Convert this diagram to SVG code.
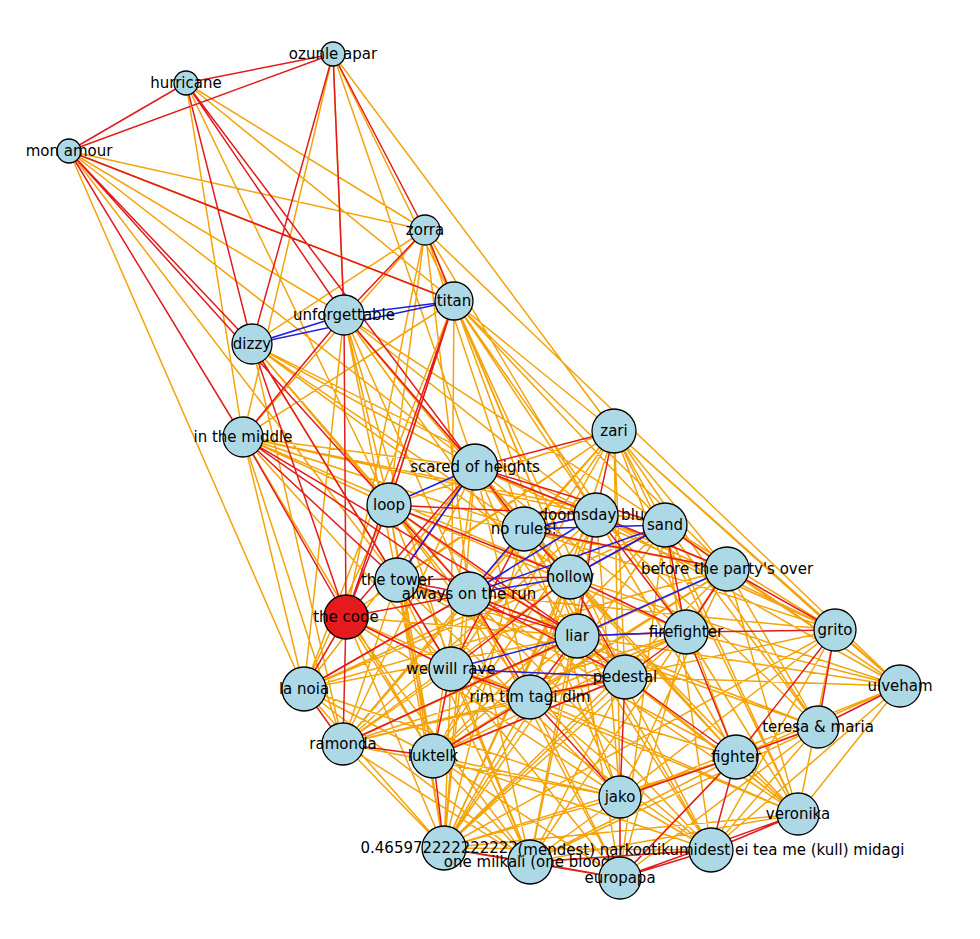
<svg xmlns="http://www.w3.org/2000/svg" width="980" height="939" viewBox="0 0 980 939">
<style>
.o{stroke:#f5a30a;stroke-width:1.5;fill:none}
.r{stroke:#e41a1c;stroke-width:1.5;fill:none}
.b{stroke:#1f1fe0;stroke-width:1.5;fill:none}
.n circle{fill:#add8e6;stroke:#000;stroke-width:1.3}
text{font-family:"DejaVu Sans",sans-serif;font-size:15px;text-anchor:middle;dominant-baseline:central;fill:#000}
</style>
<rect width="980" height="939" fill="#fff"/>
<g id="connectors">
<path class="o" d="M333 54L454 301M333 54L475 467M333 54L243 437M333 54L614 431M333 54L344 315M186 83L425 230M186 83L389 505M186 83L454 301M69 151L344 315M69 151L425 230M69 151L397 580M69 151L304 689M69 151L454 301M69 151L475 467M186 83L243 437M425 230L243 437M425 230L389 505M425 230L596 515M425 230L346 617M425 230L524 529M425 230L469 594M425 230L252 344M425 230L570 577M454 301L614 431M454 301L596 515M454 301L665 525M454 301L727 569M454 301L570 577M454 301L577 636M454 301L451 669M454 301L389 505M454 301L243 437M454 301L304 689M454 301L686 632M454 301L625 677M344 315L389 505M344 315L524 529M344 315L596 515M344 315L469 594M344 315L577 636M344 315L433 756M344 315L304 689M344 315L665 525M344 315L451 669M344 315L570 577M252 344L475 467M252 344L389 505M252 344L524 529M252 344L469 594M252 344L451 669M252 344L343 744M252 344L596 515M252 344L570 577M243 437L475 467M243 437L389 505M243 437L596 515M243 437L524 529M243 437L451 669M243 437L304 689M243 437L433 756M243 437L570 577M243 437L665 525M243 437L343 744M614 431L389 505M614 431L397 580M614 431L469 594M614 431L346 617M614 431L835 630M614 431L900 686M614 431L818 727M614 431L736 757M614 431L451 669M614 431L530 697M614 431L625 677M614 431L343 744M614 431L433 756M614 431L798 814M614 431L620 797M425 230L900 686M475 467L727 569M475 467L686 632M475 467L835 630M475 467L625 677M475 467L530 697M475 467L343 744M475 467L433 756M475 467L620 797M475 467L444 848M475 467L736 757M475 467L304 689M389 505L727 569M389 505L686 632M389 505L625 677M389 505L530 697M389 505L433 756M389 505L444 848M389 505L530 862M389 505L620 797M389 505L304 689M596 515L835 630M596 515L900 686M596 515L818 727M596 515L736 757M596 515L620 797M596 515L444 848M596 515L530 862M596 515L343 744M596 515L433 756M596 515L530 697M665 525L900 686M665 525L835 630M665 525L818 727M665 525L798 814M665 525L711 850M665 525L620 878M665 525L444 848M665 525L433 756M665 525L304 689M524 529L835 630M524 529L736 757M524 529L711 850M524 529L444 848M524 529L620 797M524 529L343 744M524 529L798 814M727 569L900 686M727 569L818 727M727 569L798 814M727 569L530 862M727 569L444 848M727 569L620 797M727 569L433 756M727 569L343 744M727 569L304 689M727 569L530 697M570 577L900 686M570 577L798 814M570 577L711 850M570 577L620 878M570 577L444 848M570 577L343 744M570 577L304 689M397 580L444 848M397 580L530 862M397 580L620 797M397 580L736 757M397 580L818 727M397 580L343 744M397 580L433 756M397 580L625 677M469 594L835 630M469 594L818 727M469 594L711 850M469 594L620 878M469 594L530 862M469 594L444 848M469 594L343 744M469 594L304 689M469 594L798 814M346 617L444 848M346 617L530 862M346 617L620 797M346 617L433 756M346 617L577 636M346 617L530 697M577 636L900 686M577 636L798 814M577 636L711 850M577 636L530 862M577 636L444 848M577 636L343 744M577 636L433 756M577 636L304 689M686 632L900 686M686 632L798 814M686 632L620 878M686 632L444 848M686 632L433 756M686 632L530 697M686 632L343 744M835 630L900 686M835 630L798 814M835 630L711 850M835 630L620 797M835 630L530 697M835 630L444 848M451 669L798 814M451 669L711 850M451 669L620 878M451 669L736 757M451 669L530 862M451 669L444 848M451 669L343 744M625 677L900 686M625 677L798 814M625 677L530 862M625 677L444 848M625 677L433 756M625 677L343 744M304 689L444 848M304 689L530 862M304 689L433 756M304 689L620 797M900 686L798 814M900 686L711 850M900 686L620 797M900 686L736 757M530 697L798 814M530 697L711 850M530 697L620 878M530 697L444 848M530 697L343 744M818 727L711 850M818 727L620 878M818 727L530 862M818 727L620 797M343 744L444 848M343 744L530 862M343 744L620 797M433 756L711 850M433 756L620 878M433 756L530 862M433 756L620 797M736 757L444 848M736 757L530 862M736 757L620 878M736 757L798 814M620 797L711 850M620 797L444 848M620 797L530 862M798 814L444 848M798 814L530 862M444 848L711 850M444 848L620 878M530 862L711 850M614 431L665 525M614 431L727 569"/>
<path class="r" d="M186 83L333 54M69 151L333 54M69 151L186 83M186 83L252 344M186 83L344 315M186 83L475 467M333 54L425 230M333 54L252 344M333 54L344 315M69 151L252 344M69 151L454 301M69 151L243 437M69 151L389 505M425 230L454 301M425 230L344 315M252 344L346 617M243 437L346 617M243 437L469 594M344 315L243 437M454 301L389 505M454 301L346 617M344 315L346 617M344 315L475 467M252 344L397 580M243 437L577 636M243 437L397 580M475 467L596 515M475 467L665 525M475 467L524 529M475 467L397 580M389 505L596 515M389 505L570 577M389 505L469 594M389 505L577 636M524 529L727 569M524 529L570 577M524 529L451 669M596 515L727 569M596 515L577 636M596 515L686 632M570 577L686 632M570 577L625 677M570 577L451 669M397 580L577 636M397 580L451 669M397 580L570 577M469 594L625 677M469 594L577 636M469 594L530 697M346 617L304 689M346 617L343 744M346 617L469 594M346 617L389 505M346 617L451 669M577 636L625 677M577 636L686 632M577 636L530 697M686 632L835 630M686 632L736 757M686 632L625 677M835 630L818 727M835 630L736 757M451 669L433 756M451 669L530 697M625 677L620 797M625 677L736 757M625 677L530 697M530 697L620 797M530 697L433 756M304 689L343 744M343 744L433 756M433 756L444 848M620 797L620 878M620 797L736 757M736 757L711 850M798 814L711 850M798 814L620 878M711 850L620 878M530 862L620 878M444 848L530 862M444 848L620 878M530 862L711 850M620 878L736 757M736 757L818 727M900 686L818 727M346 617L475 467M304 689L469 594M343 744L577 636M433 756L625 677M727 569L665 525M727 569L686 632M727 569L835 630M665 525L686 632M665 525L570 577M397 580L469 594M596 515L524 529M614 431L475 467M614 431L596 515"/>
<path class="b" d="M252 344L454 301M252 344L344 315M344 315L454 301M389 505L475 467M524 529L596 515M469 594L596 515M469 594L665 525M469 594L570 577M469 594L524 529M397 580L475 467M451 669L577 636M451 669L625 677M577 636L727 569M570 577L665 525M524 529L665 525M577 636L686 632"/>
</g>
<g class="n">
<g id="n-ozunle"><circle cx="333" cy="54" r="12"/><text x="333" y="54">ozunle apar</text></g>
<g id="n-hurricane"><circle cx="186" cy="83" r="12"/><text x="186" y="83">hurricane</text></g>
<g id="n-monamour"><circle cx="69" cy="151" r="12"/><text x="69" y="151">mon amour</text></g>
<g id="n-zorra"><circle cx="425" cy="230" r="15"/><text x="425" y="230">zorra</text></g>
<g id="n-titan"><circle cx="454" cy="301" r="19"/><text x="454" y="301">titan</text></g>
<g id="n-unforgettable"><circle cx="344" cy="315" r="20"/><text x="344" y="315">unforgettable</text></g>
<g id="n-dizzy"><circle cx="252" cy="344" r="20"/><text x="252" y="344">dizzy</text></g>
<g id="n-inthemiddle"><circle cx="243" cy="437" r="20"/><text x="243" y="437">in the middle</text></g>
<g id="n-zari"><circle cx="614" cy="431" r="22"/><text x="614" y="431">zari</text></g>
<g id="n-scared"><circle cx="475" cy="467" r="23"/><text x="475" y="467">scared of heights</text></g>
<g id="n-loop"><circle cx="389" cy="505" r="22"/><text x="389" y="505">loop</text></g>
<g id="n-doomsday"><circle cx="596" cy="515" r="22"/><text x="596" y="515">doomsday blue</text></g>
<g id="n-sand"><circle cx="665" cy="525" r="22"/><text x="665" y="525">sand</text></g>
<g id="n-norules"><circle cx="524" cy="529" r="22"/><text x="524" y="529">no rules!</text></g>
<g id="n-before"><circle cx="727" cy="569" r="22"/><text x="727" y="569">before the party's over</text></g>
<g id="n-hollow"><circle cx="570" cy="577" r="22"/><text x="570" y="577">hollow</text></g>
<g id="n-tower"><circle cx="397" cy="580" r="22"/><text x="397" y="580">the tower</text></g>
<g id="n-always"><circle cx="469" cy="594" r="22"/><text x="469" y="594">always on the run</text></g>
<g id="n-code"><circle cx="346" cy="617" r="22" style="fill:#e41a1c"/><text x="346" y="617">the code</text></g>
<g id="n-liar"><circle cx="577" cy="636" r="22"/><text x="577" y="636">liar</text></g>
<g id="n-firefighter"><circle cx="686" cy="632" r="22"/><text x="686" y="632">firefighter</text></g>
<g id="n-grito"><circle cx="835" cy="630" r="21"/><text x="835" y="630">grito</text></g>
<g id="n-rave"><circle cx="451" cy="669" r="22"/><text x="451" y="669">we will rave</text></g>
<g id="n-pedestal"><circle cx="625" cy="677" r="22"/><text x="625" y="677">pedestal</text></g>
<g id="n-lanoia"><circle cx="304" cy="689" r="22"/><text x="304" y="689">la noia</text></g>
<g id="n-ulveham"><circle cx="900" cy="686" r="21"/><text x="900" y="686">ulveham</text></g>
<g id="n-rimtim"><circle cx="530" cy="697" r="22"/><text x="530" y="697">rim tim tagi dim</text></g>
<g id="n-teresa"><circle cx="818" cy="727" r="21"/><text x="818" y="727">teresa &amp; maria</text></g>
<g id="n-ramonda"><circle cx="343" cy="744" r="21"/><text x="343" y="744">ramonda</text></g>
<g id="n-luktelk"><circle cx="433" cy="756" r="22"/><text x="433" y="756">luktelk</text></g>
<g id="n-fighter"><circle cx="736" cy="757" r="22"/><text x="736" y="757">fighter</text></g>
<g id="n-jako"><circle cx="620" cy="797" r="21"/><text x="620" y="797">jako</text></g>
<g id="n-veronika"><circle cx="798" cy="814" r="21"/><text x="798" y="814">veronika</text></g>
<g id="n-number"><circle cx="444" cy="848" r="22"/><text x="444" y="848">0.4659722222222222</text></g>
<g id="n-onemilkali"><circle cx="530" cy="862" r="22"/><text x="530" y="862">one milkali (one blood)</text></g>
<g id="n-mendest"><circle cx="711" cy="850" r="22"/><text x="711" y="850">(mendest) narkootikumidest ei tea me (kull) midagi</text></g>
<g id="n-europapa"><circle cx="620" cy="878" r="21"/><text x="620" y="878">europapa</text></g>
</g>
</svg>
